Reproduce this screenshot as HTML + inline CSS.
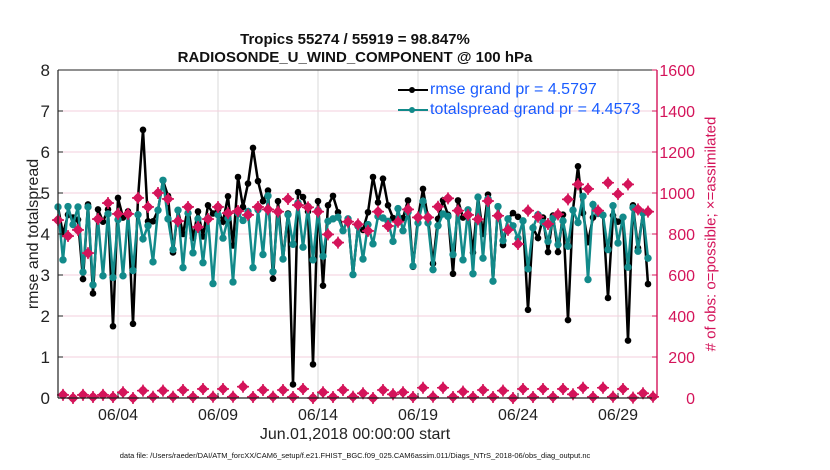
<!DOCTYPE html>
<html><head><meta charset="utf-8"><style>
body{margin:0;background:#fff;}
svg{display:block;font-family:"Liberation Sans",sans-serif;}
</style></head><body>
<svg id="chart" width="830" height="470"></svg>
<script>
const rmse=[4.66,4.0,4.47,4.4,4.35,2.9,4.72,2.55,4.6,4.3,4.6,1.75,4.88,4.4,4.55,1.81,4.87,6.54,4.31,4.31,4.58,5.3,4.93,3.55,4.58,4.0,4.66,3.9,4.55,3.94,4.7,4.5,4.6,4.3,4.92,3.72,5.39,4.66,5.23,6.1,5.29,
4.8,5.06,2.91,4.8,3.39,4.5,0.33,5.02,4.9,4.55,0.82,4.8,2.74,4.7,4.93,4.53,4.08,4.37,3.01,4.19,4.1,4.53,5.39,4.77,5.35,4.7,4.39,4.37,4.39,4.82,3.2,4.39,5.1,4.39,3.28,4.37,4.82,4.47,3.03,4.82,
4.4,4.59,3.55,4.9,4.0,4.96,2.85,4.67,3.73,4.37,4.51,4.42,4.32,2.15,4.15,3.9,4.4,3.56,4.45,3.56,4.47,1.9,4.59,5.65,4.51,3.8,4.4,4.5,4.46,2.44,4.45,4.3,4.41,1.4,4.7,3.66,4.51,2.78];
const spread=[4.66,3.37,4.67,4.23,4.66,3.07,4.66,2.76,4.35,2.98,4.49,2.94,4.35,2.98,4.49,3.11,4.47,3.88,4.2,3.32,4.58,5.31,4.37,3.62,4.58,3.18,4.51,3.54,4.37,3.3,4.39,2.79,4.47,3.9,4.38,2.83,4.51,4.33,4.55,3.18,4.59,
3.5,4.93,3.08,4.55,3.39,4.47,3.75,4.76,3.68,4.67,3.37,4.58,3.46,4.31,4.37,4.41,4.08,4.37,3.01,4.19,3.39,4.23,3.76,4.43,4.39,4.31,3.82,4.62,4.08,4.53,3.22,4.27,4.8,4.27,3.13,4.2,4.49,4.43,3.5,4.59,
3.37,4.59,3.03,4.9,3.41,4.86,2.85,4.67,3.84,4.37,4.2,3.9,4.32,3.15,4.15,4.47,4.28,3.82,4.39,3.74,4.32,3.7,4.58,4.28,4.92,2.89,4.72,4.5,4.46,3.62,4.69,3.78,4.41,3.19,4.64,3.58,4.51,3.41];
const obsEven=[868,790,820,707,873,951,898,898,976,932,1000,971,863,932,834,873,932,902,912,893,932,
920,909,971,941,930,909,798,758,860,847,815,909,839,860,920,881,881,933,974,914,
893,872,961,889,820,751,914,884,849,896,969,1042,1020,914,1050,995,1042,920,909];
const obsOdd=[15,0,15,5,15,5,28,0,36,6,36,6,39,5,44,6,44,6,55,5,39,6,39,5,44,0,28,5,39,6,
23,0,39,18,28,5,50,6,50,5,31,5,39,5,36,0,44,5,44,5,44,18,50,5,50,6,44,2,23,6];
const leftTicks=[0,1,2,3,4,5,6,7,8];
const rightTicks=[0,200,400,600,800,1000,1200,1400,1600];
const dateTicks=[3,8,13,18,23,28];
const dateLabels=["06/04","06/09","06/14","06/19","06/24","06/29"];

const NS="http://www.w3.org/2000/svg";
const svg=document.getElementById('chart');
const L=58,R=657,T=70,B=398;
const xs=d=>L+d*20;
const yl=v=>B-(v/8)*(B-T);
const yr=v=>B-(v/1600)*(B-T);
function el(tag,attrs,parent){const e=document.createElementNS(NS,tag);for(const k in attrs)e.setAttribute(k,attrs[k]);(parent||svg).appendChild(e);return e;}
const MAG="#d4145a",TEAL="#128a8a";

const grid=el('g',{});


dateTicks.forEach(d=>{el('line',{x1:xs(d),x2:xs(d),y1:T,y2:B,stroke:'#dadada','stroke-width':1},grid);});
rightTicks.forEach(v=>{el('line',{x1:L,x2:R,y1:yr(v),y2:yr(v),stroke:'#f3cfdc','stroke-width':1},grid);});

function series(arr,color,r,name){
  const g=el('g',{});
  
  
  el('polyline',{points:arr.map((v,i)=>xs(i*0.25)+','+yl(v)).join(' '),fill:'none',stroke:color,'stroke-width':2.5},g);
  arr.forEach((v,i)=>{const c=el('circle',{cx:xs(i*0.25),cy:yl(v),r:r,fill:color},g);
    
    });
}
series(rmse,'#000',3.3,'rmse-series');
series(spread,TEAL,3.7,'totalspread-series');

const obsG=el('g',{});


const obs=[];for(let i=0;i<120;i++){obs.push(i%2==0?obsEven[i/2]:obsOdd[(i-1)/2]);}
obs.forEach((v,i)=>{
  const x=xs(i*0.25),y=yr(v);
  const c=el('circle',{cx:x,cy:y,r:3.2,fill:'none',stroke:MAG,'stroke-width':1.6},obsG);
  
  
  const d=el('path',{d:`M${x},${y-5.5}L${x+5.5},${y}L${x},${y+5.5}L${x-5.5},${y}Z`,fill:MAG},obsG);
  
  
  el('path',{d:`M${x-6},${y}H${x+6}M${x},${y-6}V${y+6}`,stroke:MAG,'stroke-width':1.6},obsG);
});

const ax=el('g',{});


el('line',{x1:L,x2:R,y1:T,y2:T,stroke:'#222','stroke-width':1},ax);
el('line',{x1:L,x2:R,y1:B,y2:B,stroke:'#222','stroke-width':1.2},ax);
el('line',{x1:L,x2:L,y1:T,y2:B,stroke:'#222','stroke-width':1.2},ax);
el('line',{x1:R,x2:R,y1:T,y2:B,stroke:MAG,'stroke-width':1.4},ax);
leftTicks.forEach(v=>{
  el('line',{x1:L,x2:L+5,y1:yl(v),y2:yl(v),stroke:'#222'},ax);
  const t=el('text',{x:L-8,y:yl(v)+6,'text-anchor':'end','font-size':17,fill:'#222'},ax);t.textContent=v;
  
  
});
rightTicks.forEach(v=>{
  el('line',{x1:R-5,x2:R,y1:yr(v),y2:yr(v),stroke:MAG},ax);
  const t=el('text',{x:695,y:yr(v)+6,'text-anchor':'end','font-size':16,fill:MAG},ax);t.textContent=v;
  
  
});
dateTicks.forEach((d,k)=>{
  el('line',{x1:xs(d),x2:xs(d),y1:B,y2:B-5,stroke:'#222'},ax);
  const t=el('text',{x:xs(d),y:B+22,'text-anchor':'middle','font-size':16,fill:'#222'},ax);t.textContent=dateLabels[k];
  
  
});
</script>
<div style="position:absolute;left:0;top:0;width:830px;height:470px;pointer-events:none;font-family:'Liberation Sans',sans-serif;">
  <div style="position:absolute;left:0;width:710px;top:31px;text-align:center;font-weight:bold;font-size:15px;line-height:18px;color:#111;">Tropics 55274 / 55919 = 98.847%<br>RADIOSONDE_U_WIND_COMPONENT @ 100 hPa</div>
  <div style="position:absolute;left:34px;top:234px;transform:translate(-50%,-50%) rotate(-90deg);white-space:nowrap;font-size:16px;color:#222;">rmse and totalspread</div>
  <div style="position:absolute;left:711px;top:234px;transform:translate(-50%,-50%) rotate(-90deg);white-space:nowrap;font-size:15px;color:#d4145a;"># of obs: o=possible; ×=assimilated</div>
  <div style="position:absolute;left:0;width:710px;top:426px;text-align:center;font-size:16px;color:#222;">Jun.01,2018 00:00:00 start</div>
  <div style="position:absolute;left:0;width:710px;top:451px;text-align:center;font-size:7.5px;color:#111;">data file: /Users/raeder/DAI/ATM_forcXX/CAM6_setup/f.e21.FHIST_BGC.f09_025.CAM6assim.011/Diags_NTrS_2018-06/obs_diag_output.nc</div>
  <div style="position:absolute;left:396px;top:80px;font-size:16px;color:#1a5cff;line-height:20px;">
    <div style="position:relative;padding-left:34px;"><span style="position:absolute;left:2px;top:9px;width:30px;height:2px;background:#000;"></span><span style="position:absolute;left:13px;top:7px;width:6px;height:6px;border-radius:50%;background:#000;"></span>rmse grand pr = 4.5797</div>
    <div style="position:relative;padding-left:34px;"><span style="position:absolute;left:2px;top:9px;width:30px;height:2px;background:#128a8a;"></span><span style="position:absolute;left:13px;top:7px;width:6px;height:6px;border-radius:50%;background:#128a8a;"></span>totalspread grand pr = 4.4573</div>
  </div>
</div>
</body></html>
